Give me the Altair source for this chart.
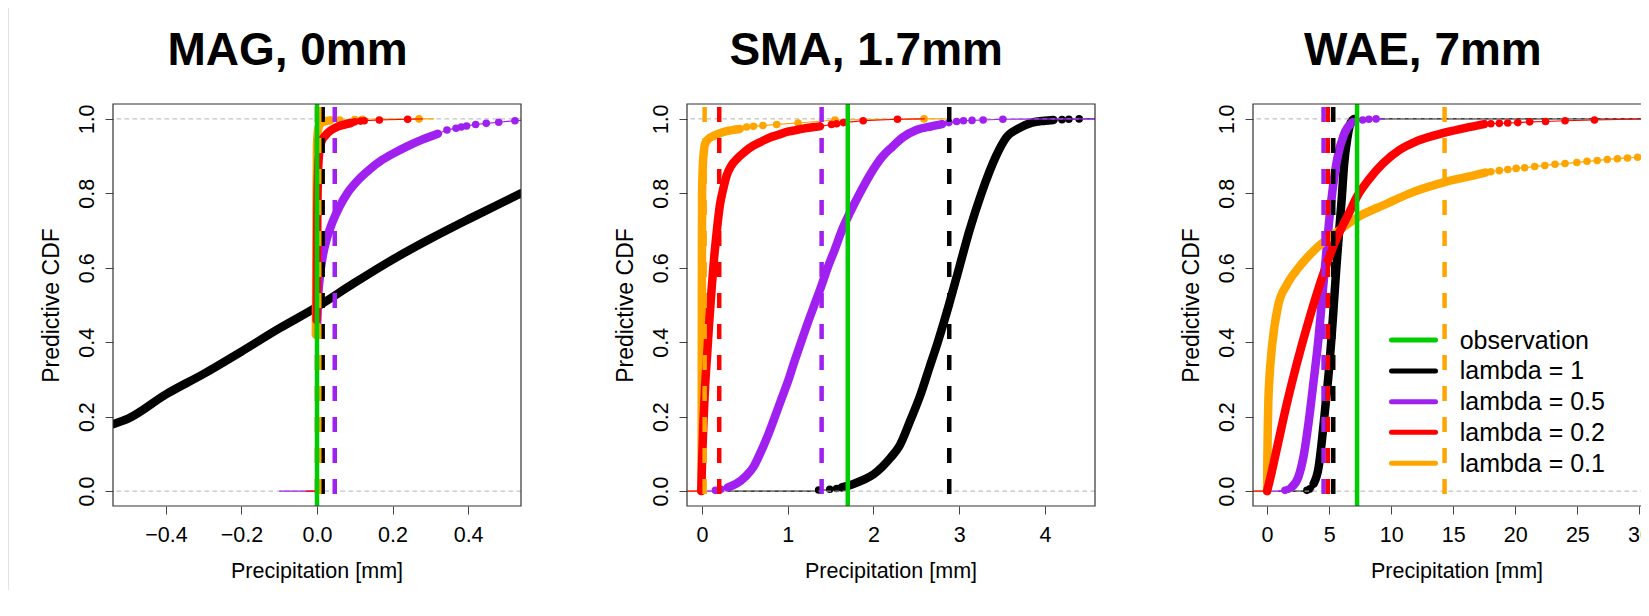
import altair as alt
import pandas as pd

FONT = "Liberation Sans"
C_OBS = "#00cd00"
SERIES_COLOR = {"l1": "#000000", "l05": "#a020f0", "l02": "#ff0000", "l01": "#ffa500"}
DRAW_ORDER = ["l1", "l05", "l01", "l02"]
DASH_ORDER = ["l1", "l05", "l02", "l01"]

PANEL_W, PANEL_H = 408, 402
Y_DOMAIN = [-0.04, 1.04]
Y_TICKS = [0.0, 0.2, 0.4, 0.6, 0.8, 1.0]

legend_labels = ["observation", "lambda = 1", "lambda = 0.5", "lambda = 0.2", "lambda = 0.1"]
legend_colors = [C_OBS, "#000000", "#a020f0", "#ff0000", "#ffa500"]

# ------------------------------------------------------------------ MAG, 0mm
mag_title = "MAG, 0mm"
mag_xdomain = [-0.54, 0.54]
mag_xticks = [-0.4, -0.2, 0.0, 0.2, 0.4]
mag_obs = 0.0
mag_dashed = {"l1": 0.015, "l05": 0.047, "l02": 0.0, "l01": 0.006}

mag_l1_mid_x = [-0.54, -0.5, -0.4, -0.3, -0.2, -0.1, 0.0, 0.1, 0.2, 0.3, 0.4, 0.5, 0.54]
mag_l1_mid_y = [0.18, 0.195, 0.26, 0.315, 0.375, 0.437, 0.495, 0.56, 0.622, 0.678, 0.73, 0.78, 0.80]

mag_l05_mid_x = [0.0, 0.003, 0.008, 0.015, 0.025, 0.04, 0.06, 0.08, 0.11, 0.14, 0.17, 0.2, 0.24, 0.28, 0.32]
mag_l05_mid_y = [0.44, 0.52, 0.58, 0.63, 0.675, 0.72, 0.765, 0.8, 0.837, 0.865, 0.888, 0.906, 0.927, 0.945, 0.96]
mag_l05_hi_x = [0.344, 0.368, 0.382, 0.396, 0.42, 0.448, 0.481, 0.524]
mag_l05_hi_y = [0.97, 0.975, 0.978, 0.981, 0.985, 0.988, 0.991, 0.995]

mag_l02_mid_x = [-0.001, 0.0, 0.001, 0.003, 0.006, 0.012, 0.022, 0.035, 0.05, 0.07, 0.09]
mag_l02_mid_y = [0.46, 0.6, 0.75, 0.86, 0.91, 0.94, 0.955, 0.968, 0.977, 0.984, 0.989]
mag_l02_hi_x = [0.1, 0.115, 0.125, 0.165, 0.24]
mag_l02_hi_y = [0.992, 0.994, 0.995, 0.997, 0.999]

mag_l01_mid_x = [-0.003, -0.002, -0.001, 0.0, 0.002, 0.005, 0.01, 0.02, 0.035]
mag_l01_mid_y = [0.42, 0.6, 0.8, 0.93, 0.965, 0.98, 0.988, 0.993, 0.996]
mag_l01_hi_x = [0.06, 0.1, 0.12, 0.27]
mag_l01_hi_y = [0.997, 0.998, 0.999, 1.0]

# ------------------------------------------------------------------ SMA, 1.7mm
sma_title = "SMA, 1.7mm"
sma_xdomain = [-0.176, 4.585]
sma_xticks = [0, 1, 2, 3, 4]
sma_obs = 1.7
sma_dashed = {"l1": 2.884, "l05": 1.395, "l02": 0.2, "l01": 0.03}

sma_l1_lo_x = [1.36, 1.49, 1.57]
sma_l1_lo_y = [0.003, 0.005, 0.007]
sma_l1_mid_x = [1.63, 1.75, 1.88, 2.0, 2.1, 2.2, 2.3, 2.43, 2.55, 2.65, 2.75, 2.88, 3.0, 3.12, 3.26,
                3.43, 3.55, 3.7, 3.85, 4.0, 4.1]
sma_l1_mid_y = [0.01, 0.018, 0.03, 0.045, 0.065, 0.09, 0.12, 0.19, 0.26, 0.33, 0.4, 0.5, 0.6, 0.7, 0.8,
                0.9, 0.95, 0.975, 0.99, 0.995, 0.997]
sma_l1_hi_x = [4.2, 4.28, 4.4]
sma_l1_hi_y = [0.998, 0.999, 1.0]

sma_l05_lo_x = [0.155, 0.22]
sma_l05_lo_y = [0.002, 0.005]
sma_l05_mid_x = [0.3, 0.4, 0.51, 0.6, 0.675, 0.76, 0.85, 0.93, 1.01, 1.08, 1.155, 1.23, 1.31, 1.39, 1.465,
                 1.55, 1.63, 1.73, 1.84, 1.96, 2.11, 2.22, 2.34, 2.5, 2.675, 2.8]
sma_l05_mid_y = [0.01, 0.02, 0.04, 0.065, 0.1, 0.145, 0.2, 0.25, 0.3, 0.35, 0.4, 0.45, 0.5, 0.55, 0.6,
                 0.65, 0.7, 0.75, 0.8, 0.85, 0.9, 0.925, 0.95, 0.97, 0.98, 0.986]
sma_l05_hi_x = [2.88, 2.97, 3.05, 3.15, 3.28, 3.51]
sma_l05_hi_y = [0.99, 0.993, 0.995, 0.996, 0.997, 0.999]

sma_l02_mid_x = [-0.01, 0.0, 0.015, 0.035, 0.06, 0.085, 0.112, 0.14, 0.17, 0.209, 0.25, 0.287, 0.34,
                 0.404, 0.5, 0.597, 0.7, 0.792, 0.9, 0.987, 1.1, 1.18, 1.3, 1.375]
sma_l02_mid_y = [0.0, 0.08, 0.18, 0.28, 0.37, 0.46, 0.545, 0.625, 0.695, 0.77, 0.815, 0.848, 0.874,
                 0.892, 0.912, 0.928, 0.94, 0.95, 0.958, 0.965, 0.97, 0.974, 0.978, 0.98]
sma_l02_hi_x = [1.51, 1.57, 1.65, 1.88, 2.28]
sma_l02_hi_y = [0.985, 0.987, 0.99, 0.995, 0.999]

sma_l01_mid_x = [-0.005, -0.004, -0.002, 0.0, 0.01, 0.02, 0.034, 0.07, 0.131, 0.2, 0.287, 0.44]
sma_l01_mid_y = [0.0, 0.3, 0.6, 0.8, 0.88, 0.91, 0.932, 0.945, 0.954, 0.961, 0.967, 0.973]
sma_l01_hi_x = [0.52, 0.6, 0.71, 0.87, 1.12, 1.55, 2.59]
sma_l01_hi_y = [0.978, 0.98, 0.982, 0.985, 0.989, 0.997, 1.0]

# ------------------------------------------------------------------ WAE, 7mm
wae_title = "WAE, 7mm"
wae_xdomain = [-1.136, 31.74]
wae_xticks = [0, 5, 10, 15, 20, 25, 30]
wae_obs = 7.25
wae_dashed = {"l1": 5.33, "l05": 4.55, "l02": 4.9, "l01": 14.3}

wae_l1_lo_x = [3.21, 3.45]
wae_l1_lo_y = [0.002, 0.006]
wae_l1_mid_x = [3.75, 4.16, 4.43, 4.71, 4.98, 5.2, 5.39, 5.58, 5.79, 6.01, 6.2, 6.47, 6.74, 7.0]
wae_l1_mid_y = [0.02, 0.066, 0.14, 0.232, 0.324, 0.416, 0.508, 0.6, 0.692, 0.784, 0.876, 0.949, 0.99, 1.0]

wae_l05_lo_x = [1.44, 1.7]
wae_l05_lo_y = [0.002, 0.005]
wae_l05_mid_x = [1.99, 2.53, 2.94, 3.35, 3.75, 4.16, 4.43, 4.71, 4.98, 5.25, 5.66, 6.2, 6.88]
wae_l05_mid_y = [0.011, 0.039, 0.094, 0.186, 0.296, 0.416, 0.517, 0.618, 0.719, 0.802, 0.894, 0.959, 0.991]
wae_l05_hi_x = [7.7, 8.2, 8.78]
wae_l05_hi_y = [0.997, 0.999, 1.0]

wae_l02_mid_x = [0.0, 0.35, 0.89, 1.57, 2.25, 3.07, 3.88, 4.7, 5.52, 6.6, 7.28, 8.24, 9.33, 10.69,
                 12.05, 14.3, 16.14, 17.5]
wae_l02_mid_y = [0.0, 0.048, 0.13, 0.232, 0.324, 0.425, 0.517, 0.6, 0.673, 0.747, 0.793, 0.839, 0.88,
                 0.917, 0.94, 0.963, 0.977, 0.986]
wae_l02_hi_x = [18.03, 18.71, 19.39, 20.2, 21.16, 22.44, 24.01, 26.38, 30.45]
wae_l02_hi_y = [0.987, 0.988, 0.989, 0.99, 0.992, 0.993, 0.995, 0.997, 1.0]

wae_l01_mid_x = [0.0, 0.02, 0.05, 0.1, 0.2, 0.4, 0.9, 1.6, 2.53, 3.88, 5.79, 7.42, 9.5, 11.5, 14.3, 16.9,
                 17.6]
wae_l01_mid_y = [0.0, 0.08, 0.16, 0.24, 0.31, 0.39, 0.5, 0.555, 0.6, 0.65, 0.7, 0.738, 0.77, 0.8, 0.83, 0.85,
                 0.856]
wae_l01_hi_x = [18.03, 18.71, 19.39, 20.07, 20.75, 21.56, 22.38, 23.2, 24.01, 24.96, 25.78, 26.6,
                27.41, 28.23, 29.04, 29.86, 30.67]
wae_l01_hi_y = [0.858, 0.861, 0.864, 0.867, 0.869, 0.872, 0.875, 0.878, 0.88, 0.883, 0.886, 0.888,
                0.891, 0.893, 0.895, 0.897, 0.899]

# ecdf horizontal extensions (left at 0, right at 1)
mag_ext = {"l1": (None, None), "l05": (-0.1, 0.6), "l02": (-0.03, 0.28), "l01": (-0.01, 0.31)}
sma_ext = {"l1": (0.3, 4.6), "l05": (0.0, 4.6), "l02": (-0.18, 2.6), "l01": (-0.18, 2.85)}
wae_ext = {"l1": (0.9, 32.0), "l05": (0.3, 9.5), "l02": (-1.2, 32.0), "l01": (-1.2, None)}


def curve(mid_x, mid_y, lo_x=(), lo_y=(), hi_x=(), hi_y=(), ext=(None, None)):
    return dict(mid_x=list(mid_x), mid_y=list(mid_y), lo_x=list(lo_x), lo_y=list(lo_y),
                hi_x=list(hi_x), hi_y=list(hi_y), ext=ext)


panels = [
    dict(title=mag_title, title_dx=174.5, xdomain=mag_xdomain, xticks=mag_xticks, fmt=".1f",
         obs=mag_obs, dashed=mag_dashed, legend=False, stripe=True,
         curves={
             "l1": curve(mag_l1_mid_x, mag_l1_mid_y, ext=mag_ext["l1"]),
             "l05": curve(mag_l05_mid_x, mag_l05_mid_y, hi_x=mag_l05_hi_x, hi_y=mag_l05_hi_y, ext=mag_ext["l05"]),
             "l02": curve(mag_l02_mid_x, mag_l02_mid_y, hi_x=mag_l02_hi_x, hi_y=mag_l02_hi_y, ext=mag_ext["l02"]),
             "l01": curve(mag_l01_mid_x, mag_l01_mid_y, hi_x=mag_l01_hi_x, hi_y=mag_l01_hi_y, ext=mag_ext["l01"]),
         }),
    dict(title=sma_title, title_dx=179.2, xdomain=sma_xdomain, xticks=sma_xticks, fmt="d",
         obs=sma_obs, dashed=sma_dashed, legend=False, stripe=False,
         curves={
             "l1": curve(sma_l1_mid_x, sma_l1_mid_y, sma_l1_lo_x, sma_l1_lo_y, sma_l1_hi_x, sma_l1_hi_y, sma_ext["l1"]),
             "l05": curve(sma_l05_mid_x, sma_l05_mid_y, sma_l05_lo_x, sma_l05_lo_y, sma_l05_hi_x, sma_l05_hi_y, sma_ext["l05"]),
             "l02": curve(sma_l02_mid_x, sma_l02_mid_y, hi_x=sma_l02_hi_x, hi_y=sma_l02_hi_y, ext=sma_ext["l02"]),
             "l01": curve(sma_l01_mid_x, sma_l01_mid_y, hi_x=sma_l01_hi_x, hi_y=sma_l01_hi_y, ext=sma_ext["l01"]),
         }),
    dict(title=wae_title, title_dx=169.9, xdomain=wae_xdomain, xticks=wae_xticks, fmt="d",
         obs=wae_obs, dashed=wae_dashed, legend=True, stripe=False,
         curves={
             "l1": curve(wae_l1_mid_x, wae_l1_mid_y, wae_l1_lo_x, wae_l1_lo_y, ext=wae_ext["l1"]),
             "l05": curve(wae_l05_mid_x, wae_l05_mid_y, wae_l05_lo_x, wae_l05_lo_y, wae_l05_hi_x, wae_l05_hi_y, wae_ext["l05"]),
             "l02": curve(wae_l02_mid_x, wae_l02_mid_y, hi_x=wae_l02_hi_x, hi_y=wae_l02_hi_y, ext=wae_ext["l02"]),
             "l01": curve(wae_l01_mid_x, wae_l01_mid_y, hi_x=wae_l01_hi_x, hi_y=wae_l01_hi_y, ext=wae_ext["l01"]),
         }),
]

ONE = pd.DataFrame({"k": [0]})


def make_panel(p):
    xs = alt.Scale(domain=p["xdomain"], nice=False, zero=False)
    ys = alt.Scale(domain=Y_DOMAIN, nice=False, zero=False)
    xaxis = alt.Axis(values=p["xticks"], format=p["fmt"], title=None, grid=False, domain=False,
                     ticks=True, tickSize=8, tickColor="#444444", tickWidth=1,
                     labelFont=FONT, labelFontSize=21.5, labelColor="#000000", labelAngle=0,
                     labelPadding=27, labelBaseline="alphabetic", labelFlush=False, labelOverlap=False)
    yaxis = alt.Axis(values=Y_TICKS, format=".1f", title=None, grid=False, domain=False,
                     ticks=True, tickSize=8, tickColor="#444444", tickWidth=1,
                     labelFont=FONT, labelFontSize=21.5, labelColor="#000000", labelAngle=270,
                     labelAlign="center", labelBaseline="alphabetic", labelPadding=12,
                     labelFlush=False, labelOverlap=False)

    def X():
        return alt.X("x:Q", scale=xs, axis=xaxis)

    def Y():
        return alt.Y("y:Q", scale=ys, axis=yaxis)

    layers = []
    if p["stripe"]:
        layers.append(alt.Chart(ONE).mark_rect(color="#e2e2e2").encode(
            x=alt.value(-105), x2=alt.value(-104), y=alt.value(-96), y2=alt.value(486)))

    ref = pd.DataFrame({"y": [0.0, 1.0]})
    ref_layer = alt.Chart(ref).mark_rule(color="#b3b3b3", strokeWidth=1, strokeDash=[4.5, 3.5]).encode(y=Y())

    for idx, s in enumerate(DRAW_ORDER):
        c = p["curves"][s]
        col = SERIES_COLOR[s]
        ext_l, ext_r = c["ext"]
        if ext_l is not None or c["lo_x"]:
            lx, ly = [], []
            if ext_l is not None:
                lx.append(ext_l); ly.append(0.0)
            lx += c["lo_x"] + [c["mid_x"][0]]
            ly += c["lo_y"] + [c["mid_y"][0]]
            low = pd.DataFrame({"x": lx, "y": ly, "i": list(range(len(lx)))})
            layers.append(alt.Chart(low).mark_line(color=col, strokeWidth=1.2, interpolate="step-after",
                                                   clip=True).encode(x=X(), y=Y(), order="i:Q"))
        if ext_r is not None or c["hi_x"]:
            hx = [c["mid_x"][-1]] + c["hi_x"]
            hy = [c["mid_y"][-1]] + c["hi_y"]
            if ext_r is not None:
                hx.append(ext_r); hy.append(1.0)
            high = pd.DataFrame({"x": hx, "y": hy, "i": list(range(len(hx)))})
            layers.append(alt.Chart(high).mark_line(color=col, strokeWidth=1.2, clip=True)
                          .encode(x=X(), y=Y(), order="i:Q"))
        mid = pd.DataFrame({"x": c["mid_x"], "y": c["mid_y"], "i": list(range(len(c["mid_x"])))})
        layers.append(alt.Chart(mid).mark_line(color=col, strokeWidth=8.5, strokeCap="round",
                                               strokeJoin="round", interpolate="monotone",
                                               clip=True).encode(x=X(), y=Y(), order="i:Q"))
        pts = pd.DataFrame({"x": c["lo_x"] + c["hi_x"], "y": c["lo_y"] + c["hi_y"]})
        if len(pts):
            layers.append(alt.Chart(pts).mark_circle(color=col, size=57, opacity=1, clip=True)
                          .encode(x=X(), y=Y()))
        if idx == 0:
            layers.append(ref_layer)

    for s in DASH_ORDER:
        d = pd.DataFrame({"x": [p["dashed"][s]]})
        layers.append(alt.Chart(d).mark_rule(color=SERIES_COLOR[s], strokeWidth=4.5,
                                             strokeDash=[15, 16], strokeDashOffset=-3, clip=True)
                      .encode(x=X()))
    obs = pd.DataFrame({"x": [p["obs"]]})
    layers.append(alt.Chart(obs).mark_rule(color=C_OBS, strokeWidth=4.5, clip=True).encode(x=X()))

    if p["legend"]:
        row_y = [236, 267, 297.7, 328.3, 359.3]
        text_y = [245.3, 275.3, 306, 336.7, 367.7]
        for lab, col, ly, tyy in zip(legend_labels, legend_colors, row_y, text_y):
            layers.append(alt.Chart(ONE).mark_rule(color=col, strokeWidth=5, strokeCap="round").encode(
                x=alt.value(138.5), x2=alt.value(182.5), y=alt.value(ly), y2=alt.value(ly)))
            layers.append(alt.Chart(ONE).mark_text(text=lab, font=FONT, fontSize=25, color="#000000",
                                                   align="left", baseline="alphabetic").encode(
                x=alt.value(206.7), y=alt.value(tyy)))

    layers.append(alt.Chart(ONE).mark_text(text=p["title"], font=FONT, fontSize=46, fontWeight="bold",
                                           color="#000000", align="center", baseline="alphabetic")
                  .encode(x=alt.value(p["title_dx"]), y=alt.value(-39)))
    layers.append(alt.Chart(ONE).mark_text(text="Precipitation [mm]", font=FONT, fontSize=21.5,
                                           color="#000000", align="center", baseline="alphabetic")
                  .encode(x=alt.value(PANEL_W / 2), y=alt.value(474)))
    layers.append(alt.Chart(ONE).mark_text(text="Predictive CDF", font=FONT, fontSize=23, angle=270,
                                           color="#000000", align="center", baseline="alphabetic")
                  .encode(x=alt.value(-54), y=alt.value(201.5)))
    layers.append(alt.Chart(ONE).mark_rect(fillOpacity=0, stroke="#333333", strokeWidth=1.2).encode(
        x=alt.value(0), x2=alt.value(PANEL_W), y=alt.value(0), y2=alt.value(PANEL_H)))

    return alt.layer(*layers).properties(width=PANEL_W, height=PANEL_H)


def spacer(w):
    return alt.Chart(ONE).mark_rect(opacity=0).encode(
        x=alt.value(0), x2=alt.value(1), y=alt.value(0), y2=alt.value(1)
    ).properties(width=w, height=PANEL_H)


p1, p2, p3 = [make_panel(p) for p in panels]

# The third panel runs past the right edge of the page, as in the reference:
# fixed-size canvas (no autosize) so the overflow is clipped instead of widening the page.
chart = alt.hconcat(p1, spacer(166), p2, spacer(158), p3, spacing=0, bounds="flush").configure_view(
    stroke=None
).properties(
    autosize=alt.AutoSizeParams(type="none"),
    padding={"left": 105, "top": 96, "right": 1528, "bottom": 491},
    background="white",
)

chart.save("out.html", embed_options={"renderer": "svg", "actions": False})
